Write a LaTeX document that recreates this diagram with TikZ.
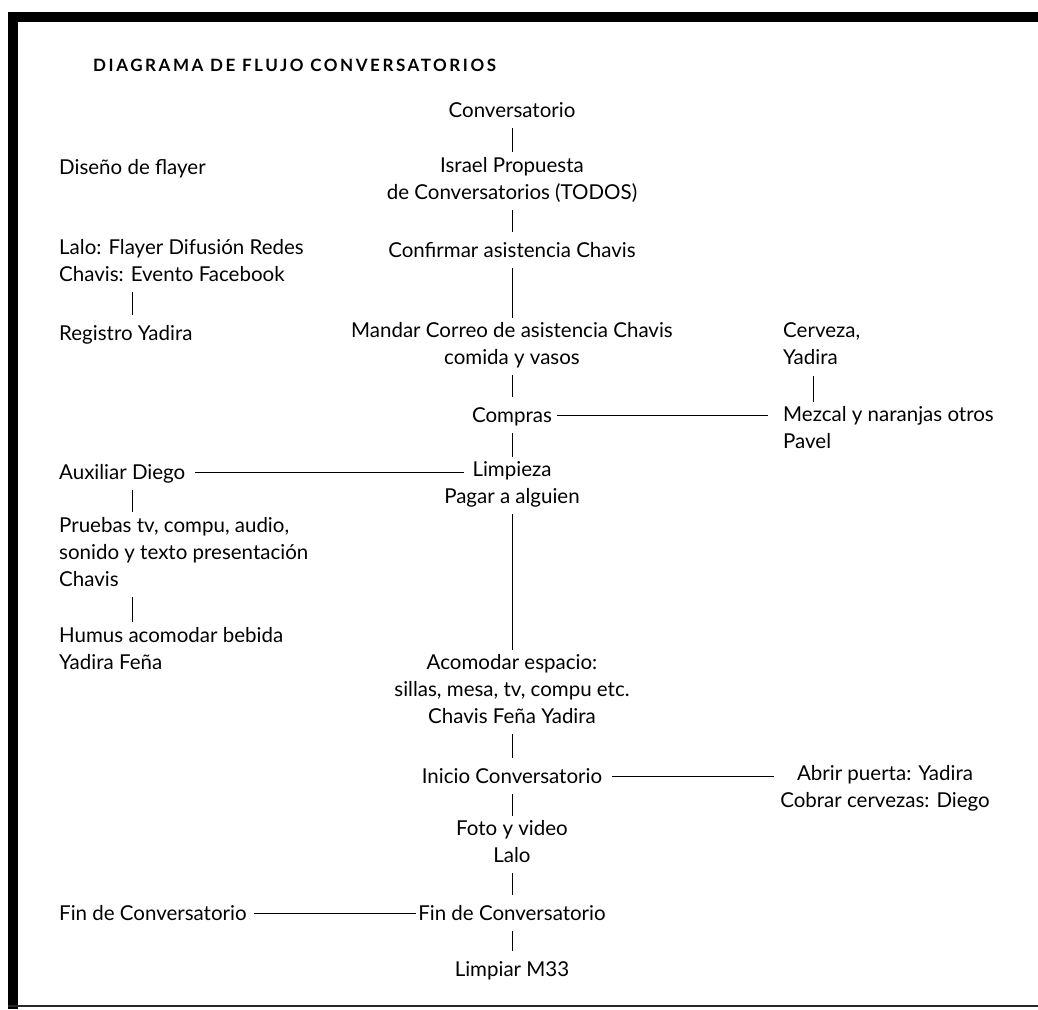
\documentclass[tikz,border=0pt]{standalone}
\usepackage{fontspec}
\setmainfont{Lato}
\newfontfamily\titlefont[LetterSpace=15]{Lato}
\usetikzlibrary{calc}
\newcommand\mystrut{\rule[-6pt]{0pt}{27pt}}
\tikzset{
  txt/.style={font=\fontsize{20.5}{27}\selectfont, inner xsep=0pt, inner ysep=4.5pt,
              execute at begin node=\mystrut, execute at end node=\mystrut},
  ctr/.style={txt, align=center},
  lft/.style={txt, align=left, anchor=west},
  conn/.style={line width=1pt}
}
\begin{document}
\begin{tikzpicture}[x=1pt,y=-1pt]
\useasboundingbox (0,0) rectangle (1038,1009);
% frame
\fill (8,12) rectangle (18,1009);
\fill (8,12) rectangle (1038,22);
\fill[black!85] (8,1005) rectangle (1038,1007);
% title
\node[anchor=west, inner sep=0pt, font=\titlefont\bfseries\fontsize{17}{17}\selectfont] (title) at (93,65) {DIAGRAMA DE FLUJO CONVERSATORIOS};
% centre column
\node[ctr] (conv) at (512,110) {Conversatorio};
\node[ctr] (israel) at (512,181) {Israel Propuesta\\de Conversatorios (TODOS)};
\node[ctr] (confirmar) at (512,250) {Confirmar asistencia Chavis};
\node[ctr] (mandar) at (512,346.5) {Mandar Correo de asistencia Chavis\\comida y vasos};
\node[ctr] (compras) at (512,415) {Compras};
\node[ctr] (limpieza) at (512,485.5) {Limpieza\\Pagar a alguien};
\node[ctr] (acomodar) at (512,692) {Acomodar espacio:\\sillas, mesa, tv, compu etc.\\Chavis Feña Yadira};
\node[ctr] (inicio) at (512,776) {Inicio Conversatorio};
\node[ctr] (foto) at (512,844.5) {Foto y video\\Lalo};
\node[ctr] (fin) at (512,913) {Fin de Conversatorio};
\node[ctr] (limpiar) at (512,969) {Limpiar M33};
% left column
\node[lft] (diseno) at (59,167) {Diseño de flayer};
\node[lft] (lalo) at (59,263.5) {Lalo: Flayer Difusión Redes\\Chavis: Evento Facebook};
\node[lft] (registro) at (59,333) {Registro Yadira};
\node[lft] (auxiliar) at (59,472) {Auxiliar Diego};
\node[lft] (pruebas) at (59,554.5) {Pruebas tv, compu, audio,\\sonido y texto presentación\\Chavis};
\node[lft] (humus) at (59,651) {Humus acomodar bebida\\Yadira Feña};
\node[lft] (finl) at (59,913) {Fin de Conversatorio};
% right column
\node[lft] (cerveza) at (783,347) {Cerveza,\\Yadira};
\node[lft] (mezcal) at (783,430.5) {Mezcal y naranjas otros\\Pavel};
\node[ctr] (abrir) at (885,789.5) {Abrir puerta: Yadira\\Cobrar cervezas: Diego};
% vertical connectors
\draw[conn] (conv) -- (israel);
\draw[conn] (israel) -- (confirmar);
\draw[conn] (confirmar) -- (mandar);
\draw[conn] (mandar) -- (compras);
\draw[conn] (compras) -- (limpieza);
\draw[conn] (limpieza) -- (acomodar);
\draw[conn] (acomodar) -- (inicio);
\draw[conn] (inicio) -- (foto);
\draw[conn] (foto) -- (fin);
\draw[conn] (fin) -- (limpiar);
\draw[conn] ($(lalo.south west)+(73,0)$) -- ($(registro.north west)+(73,0)$);
\draw[conn] ($(auxiliar.south west)+(73,0)$) -- ($(pruebas.north west)+(73,0)$);
\draw[conn] ($(pruebas.south west)+(73,0)$) -- ($(humus.north west)+(73,0)$);
\draw[conn] ($(cerveza.south west)+(30,0)$) -- ($(mezcal.north west)+(30,0)$);
% horizontal connectors
\draw[conn] ($(compras.east)+(5,0)$) -- ($(compras.east -| mezcal.west)+(-15,0)$);
\draw[conn] ($(auxiliar.east)+(10,0)$) -- ($(auxiliar.east -| limpieza)+(-48,0)$);
\draw[conn] ($(inicio.east)+(10,0)$) -- ($(inicio.east -| abrir.west)+(-6,0)$);
\draw[conn] ($(finl.east)+(7,0)$) -- ($(fin.west)+(-2,0)$);
\end{tikzpicture}
\end{document}
